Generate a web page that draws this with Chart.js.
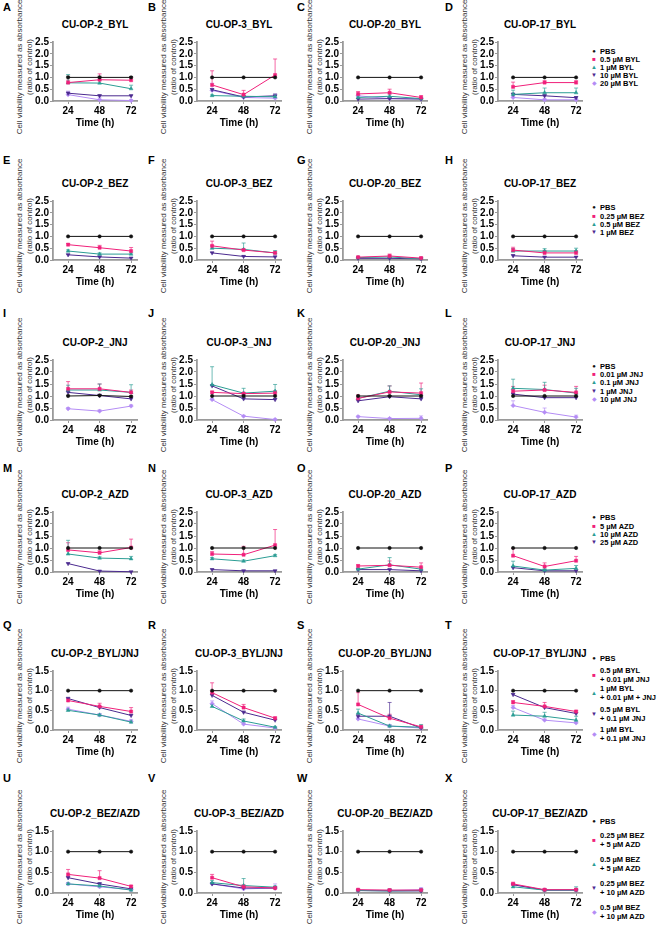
<!DOCTYPE html>
<html>
<head>
<meta charset="utf-8">
<script src="https://cdn.jsdelivr.net/npm/chart.js@4.4.1/dist/chart.umd.min.js"></script>
<style>
body { margin: 0; background: #fff; font-family: "Liberation Sans", Arial, sans-serif; }
#root { position: relative; width: 662px; height: 928px; overflow: hidden; }
canvas { position: absolute; }
.lbl { position: absolute; font-weight: bold; font-size: 11px; line-height: 12px; transform: translateY(-50%); }
.ttl { position: absolute; font-weight: bold; font-size: 10px; white-space: nowrap; transform: translate(-50%, -50%); }
.yt { position: absolute; font-size: 8px; line-height: 10px; white-space: nowrap; text-align: center; color: #333;
      transform: translate(-50%, -50%) rotate(-90deg); }
.lg { position: absolute; font-weight: bold; font-size: 7.5px; line-height: 9px; white-space: nowrap; }
.mk { position: absolute; font-size: 6px; line-height: 6px; transform: translate(-50%, -50%); }
</style>
</head>
<body>
<div id="root"></div>
<script>
const TIMES = [24, 48, 72];

// legend labels per drug set
const BYL_LABELS = ["PBS", "0.5 µM BYL", "1 µM BYL", "10 µM BYL", "20 µM BYL"];
const BEZ_LABELS = ["PBS", "0.25 µM BEZ", "0.5 µM BEZ", "1 µM BEZ"];
const JNJ_LABELS = ["PBS", "0.01 µM JNJ", "0.1 µM JNJ", "1 µM JNJ", "10 µM JNJ"];
const AZD_LABELS = ["PBS", "5 µM AZD", "10 µM AZD", "25 µM AZD"];
const BYLJNJ_LABELS = ["PBS", ["0.5 µM BYL", "+ 0.01 µM JNJ"], ["1 µM BYL", "+ 0.01 µM + JNJ"],
	["0.5 µM BYL", "+ 0.1 µM JNJ"], ["1 µM BYL", "+ 0.1 µM JNJ"]];
const BEZAZD_LABELS = ["PBS", ["0.25 µM BEZ", "+ 5 µM AZD"], ["0.5 µM BEZ", "+ 5 µM AZD"],
	["0.25 µM BEZ", "+ 10 µM AZD"], ["0.5 µM BEZ", "+ 10 µM AZD"]];

// means (rows = series, cols = 24/48/72 h) and SD (upper error bars)
const A_mean = [[1, 1, 1], [0.78, 0.9, 0.88], [0.77, 0.76, 0.52], [0.33, 0.22, 0.22], [0.27, 0.05, 0.02]];
const A_sd = [[0.05, 0.05, 0.04], [0.1, 0.25, 0.1], [0.35, 0.12, 0.15], [0.05, 0.05, 0.04], [0.15, 0.08, 0.04]];
const B_mean = [[1, 1, 1], [0.68, 0.27, 1.1], [0.23, 0.2, 0.18], [0.48, 0.17, 0.22], [0.45, 0.15, 0.12]];
const B_sd = [[0, 0, 0], [0.6, 0.18, 0.68], [0.03, 0.03, 0.05], [0.05, 0.05, 0.08], [0.3, 0.1, 0.15]];
const C_mean = [[1, 1, 1], [0.3, 0.35, 0.15], [0.15, 0.2, 0.1], [0.08, 0.1, 0.08], [0.22, 0.1, 0.1]];
const C_sd = [[0, 0, 0], [0.1, 0.15, 0.08], [0.05, 0.1, 0.05], [0.03, 0.03, 0.03], [0.05, 0.05, 0.05]];
const D_mean = [[1, 1, 1], [0.6, 0.78, 0.78], [0.28, 0.35, 0.35], [0.28, 0.22, 0.14], [0.15, 0.05, 0.05]];
const D_sd = [[0, 0, 0], [0.2, 0.08, 0.08], [0.18, 0.2, 0.2], [0.05, 0.05, 0.05], [0.05, 0.05, 0.05]];

const E_mean = [[1, 1, 1], [0.65, 0.52, 0.38], [0.38, 0.25, 0.25], [0.22, 0.13, 0.08]];
const E_sd = [[0, 0, 0], [0.05, 0.1, 0.15], [0.05, 0.05, 0.05], [0.03, 0.03, 0.03]];
const F_mean = [[1, 1, 1], [0.6, 0.42, 0.3], [0.5, 0.45, 0.3], [0.3, 0.15, 0.13]];
const F_sd = [[0, 0, 0], [0.2, 0.05, 0.05], [0.1, 0.27, 0.1], [0.03, 0.03, 0.03]];
const G_mean = [[1, 1, 1], [0.12, 0.17, 0.08], [0.1, 0.13, 0.05], [0.07, 0.07, 0.05]];
const G_sd = [[0, 0, 0], [0.03, 0.08, 0.05], [0.03, 0.05, 0.03], [0.02, 0.02, 0.02]];
const H_mean = [[1, 1, 1], [0.42, 0.3, 0.3], [0.38, 0.38, 0.38], [0.18, 0.12, 0.12]];
const H_sd = [[0, 0, 0], [0.12, 0.1, 0.1], [0.1, 0.1, 0.12], [0.05, 0.03, 0.03]];

const I_mean = [[1, 1.02, 0.98], [1.3, 1.3, 1.15], [1.25, 1.25, 1.15], [1.15, 1.02, 0.88], [0.47, 0.37, 0.58]];
const I_sd = [[0.03, 0.03, 0.03], [0.3, 0.2, 0.1], [0.2, 0.25, 0.32], [0.05, 0.05, 0.05], [0.05, 0.05, 0.05]];
const J_mean = [[1, 1, 1], [1.15, 1.1, 1.12], [1.47, 1.12, 1.2], [1.42, 0.88, 0.85], [0.85, 0.16, 0.02]];
const J_sd = [[0, 0, 0], [0.05, 0.05, 0.1], [0.75, 0.2, 0.28], [0.05, 0.05, 0.05], [0.05, 0.03, 0.02]];
const K_mean = [[1, 1, 1], [0.9, 1.17, 1.12], [0.9, 1.2, 1.05], [0.8, 0.97, 0.88], [0.14, 0.06, 0.07]];
const K_sd = [[0, 0, 0], [0.15, 0.25, 0.42], [0.1, 0.22, 0.25], [0.05, 0.05, 0.05], [0.03, 0.03, 0.1]];
const L_mean = [[1, 1, 1], [1.2, 1.25, 1.15], [1.32, 1.27, 1.12], [1.08, 0.93, 0.93], [0.6, 0.32, 0.12]];
const L_sd = [[0, 0, 0], [0.2, 0.2, 0.25], [0.38, 0.3, 0.2], [0.05, 0.05, 0.05], [0.2, 0.18, 0.08]];

const M_mean = [[1, 1, 1], [0.92, 0.8, 1.02], [0.75, 0.58, 0.55], [0.35, 0.04, 0.01]];
const M_sd = [[0, 0, 0], [0.3, 0.08, 0.35], [0.57, 0.05, 0.1], [0.03, 0.02, 0.01]];
const N_mean = [[1, 1, 1], [0.75, 0.72, 1.12], [0.55, 0.45, 0.68], [0.1, 0.05, 0.05]];
const N_sd = [[0, 0, 0], [0.1, 0.35, 0.65], [0.05, 0.05, 0.05], [0.03, 0.02, 0.02]];
const O_mean = [[1, 1, 1], [0.25, 0.28, 0.2], [0.12, 0.3, 0.12], [0.1, 0.1, 0.05]];
const O_sd = [[0, 0, 0], [0.05, 0.18, 0.18], [0.05, 0.3, 0.05], [0.02, 0.02, 0.02]];
const P_mean = [[1, 1, 1], [0.68, 0.23, 0.47], [0.25, 0.08, 0.15], [0.18, 0.05, 0.05]];
const P_sd = [[0, 0, 0], [0.3, 0.15, 0.18], [0.2, 0.05, 0.12], [0.03, 0.02, 0.02]];

const Q_mean = [[1, 1, 1], [0.75, 0.6, 0.47], [0.5, 0.38, 0.2], [0.8, 0.57, 0.37], [0.53, 0.38, 0.22]];
const Q_sd = [[0, 0, 0], [0.05, 0.08, 0.1], [0.03, 0.03, 0.03], [0.03, 0.03, 0.03], [0.05, 0.03, 0.05]];
const R_mean = [[1, 1, 1], [0.95, 0.57, 0.3], [0.6, 0.23, 0.07], [0.88, 0.45, 0.25], [0.67, 0.15, 0.05]];
const R_sd = [[0, 0, 0], [0.25, 0.08, 0.03], [0.05, 0.05, 0.02], [0.03, 0.03, 0.03], [0.07, 0.03, 0.02]];
const S_mean = [[1, 1, 1], [0.65, 0.3, 0.08], [0.43, 0.1, 0.07], [0.35, 0.35, 0.05], [0.28, 0.1, 0.05]];
const S_sd = [[0, 0, 0], [0.3, 0.1, 0.03], [0.1, 0.03, 0.07], [0.05, 0.35, 0.03], [0.05, 0.03, 0.02]];
const T_mean = [[1, 1, 1], [0.7, 0.6, 0.47], [0.38, 0.35, 0.25], [0.9, 0.57, 0.42], [0.57, 0.25, 0.18]];
const T_sd = [[0, 0, 0], [0.05, 0.1, 0.03], [0.1, 0.1, 0.1], [0.03, 0.03, 0.03], [0.05, 0.03, 0.03]];

const U_mean = [[1, 1, 1], [0.45, 0.36, 0.16], [0.22, 0.17, 0.07], [0.37, 0.22, 0.1], [0.22, 0.15, 0.08]];
const U_sd = [[0, 0, 0], [0.12, 0.18, 0.02], [0.03, 0.03, 0.02], [0.03, 0.03, 0.02], [0.03, 0.03, 0.02]];
const V_mean = [[1, 1, 1], [0.37, 0.15, 0.12], [0.25, 0.18, 0.14], [0.22, 0.12, 0.12], [0.22, 0.1, 0.12]];
const V_sd = [[0, 0, 0], [0.08, 0.05, 0.03], [0.05, 0.17, 0.03], [0.03, 0.03, 0.03], [0.03, 0.03, 0.1]];
const W_mean = [[1, 1, 1], [0.08, 0.07, 0.07], [0.06, 0.05, 0.06], [0.06, 0.05, 0.05], [0.07, 0.06, 0.08]];
const W_sd = [[0, 0, 0], [0.02, 0.02, 0.02], [0.02, 0.05, 0.05], [0.02, 0.02, 0.02], [0.02, 0.03, 0.05]];
const X_mean = [[1, 1, 1], [0.22, 0.08, 0.08], [0.15, 0.07, 0.07], [0.2, 0.07, 0.07], [0.2, 0.07, 0.07]];
const X_sd = [[0, 0, 0], [0.04, 0.02, 0.03], [0.03, 0.02, 0.08], [0.02, 0.02, 0.02], [0.02, 0.02, 0.02]];

const PANELS = [
	["A", "CU-OP-2_BYL", A_mean, A_sd, BYL_LABELS], ["B", "CU-OP-3_BYL", B_mean, B_sd, BYL_LABELS],
	["C", "CU-OP-20_BYL", C_mean, C_sd, BYL_LABELS], ["D", "CU-OP-17_BYL", D_mean, D_sd, BYL_LABELS],
	["E", "CU-OP-2_BEZ", E_mean, E_sd, BEZ_LABELS], ["F", "CU-OP-3_BEZ", F_mean, F_sd, BEZ_LABELS],
	["G", "CU-OP-20_BEZ", G_mean, G_sd, BEZ_LABELS], ["H", "CU-OP-17_BEZ", H_mean, H_sd, BEZ_LABELS],
	["I", "CU-OP-2_JNJ", I_mean, I_sd, JNJ_LABELS], ["J", "CU-OP-3_JNJ", J_mean, J_sd, JNJ_LABELS],
	["K", "CU-OP-20_JNJ", K_mean, K_sd, JNJ_LABELS], ["L", "CU-OP-17_JNJ", L_mean, L_sd, JNJ_LABELS],
	["M", "CU-OP-2_AZD", M_mean, M_sd, AZD_LABELS], ["N", "CU-OP-3_AZD", N_mean, N_sd, AZD_LABELS],
	["O", "CU-OP-20_AZD", O_mean, O_sd, AZD_LABELS], ["P", "CU-OP-17_AZD", P_mean, P_sd, AZD_LABELS],
	["Q", "CU-OP-2_BYL/JNJ", Q_mean, Q_sd, BYLJNJ_LABELS], ["R", "CU-OP-3_BYL/JNJ", R_mean, R_sd, BYLJNJ_LABELS],
	["S", "CU-OP-20_BYL/JNJ", S_mean, S_sd, BYLJNJ_LABELS], ["T", "CU-OP-17_BYL/JNJ", T_mean, T_sd, BYLJNJ_LABELS],
	["U", "CU-OP-2_BEZ/AZD", U_mean, U_sd, BEZAZD_LABELS], ["V", "CU-OP-3_BEZ/AZD", V_mean, V_sd, BEZAZD_LABELS],
	["W", "CU-OP-20_BEZ/AZD", W_mean, W_sd, BEZAZD_LABELS], ["X", "CU-OP-17_BEZ/AZD", X_mean, X_sd, BEZAZD_LABELS],
];
const ROW_YMAX = [2.5, 2.5, 2.5, 2.5, 1.5, 1.5];

// look
const COLORS = ["#111111", "#f0207a", "#2b9d94", "#4b2a8f", "#b48cf5"];
const MARKERS = ["circle", "rect", "triangle", "triangle", "rectRot"];
const MARK_ROT = [0, 0, 0, 180, 0];
const MARK_CHAR = ["●", "■", "▲", "▼", "◆"];

// layout (pixels)
const COL_AXIS = [53, 197, 343, 498];
const COL_LETTER = [3, 148, 297, 445];
const ROW_TOP = [42, 201, 360, 512, 671, 831];
const ROW_BOT = [101, 260, 420, 572, 730, 893];
const ROW_LETTER = [7, 160, 313, 468, 625, 778];
const LEGEND_Y = [[51, 59, 67, 75, 83], [207, 216, 224, 232], [366, 374, 382, 391, 399],
	[517, 526, 534, 542], [658, 674.5, 692.5, 713.5, 733.5], [821, 839.5, 863.5, 887.5, 911.5]];
const PLOT_W = 84;
const Y_AXIS_W = 45;
const X_AXIS_H = 30;
const PAD_TOP = 8;
const PAD_RIGHT = 8;

const FONT = "'Liberation Sans', Arial, sans-serif";
Chart.defaults.font.family = FONT;
Chart.defaults.color = "#000";

const root = document.getElementById("root");
function addDiv(cls, x, y, html, color) {
	const d = document.createElement("div");
	d.className = cls;
	d.style.left = x + "px";
	d.style.top = y + "px";
	if (color) d.style.color = color;
	d.innerHTML = html;
	root.appendChild(d);
	return d;
}

const errorBars = {
	id: "errorBars",
	beforeDatasetsDraw(chart) {
		const { ctx, scales: { x, y } } = chart;
		chart.data.datasets.forEach((ds) => {
			ctx.save();
			ctx.strokeStyle = ds.borderColor;
			ctx.globalAlpha = 0.75;
			ctx.lineWidth = 0.9;
			ds.data.forEach((p, j) => {
				const e = ds.sd[j];
				if (!e) return;
				const px = x.getPixelForValue(p.x);
				const y0 = y.getPixelForValue(p.y);
				const y1 = y.getPixelForValue(p.y + e);
				ctx.beginPath();
				ctx.moveTo(px, y0);
				ctx.lineTo(px, y1);
				ctx.moveTo(px - 2, y1);
				ctx.lineTo(px + 2, y1);
				ctx.stroke();
			});
			ctx.restore();
		});
	},
};

PANELS.forEach(([letter, title, mean, sd, labels], idx) => {
	const row = Math.floor(idx / 4);
	const col = idx % 4;
	const axisX = COL_AXIS[col];
	const top = ROW_TOP[row];
	const bot = ROW_BOT[row];
	const plotH = bot - top;
	const yMax = ROW_YMAX[row];

	addDiv("lbl", COL_LETTER[col], ROW_LETTER[row], letter);
	addDiv("ttl", axisX + PLOT_W / 2, top - 18, title);
	addDiv("yt", axisX - 28, (top + bot) / 2 - 5,
		"Cell viability measured as absorbance<br>(ratio of control)");

	const cv = document.createElement("canvas");
	const w = Y_AXIS_W + PLOT_W + PAD_RIGHT;
	const h = PAD_TOP + plotH + X_AXIS_H;
	cv.width = w;
	cv.height = h;
	cv.style.width = w + "px";
	cv.style.height = h + "px";
	cv.style.left = axisX - Y_AXIS_W + "px";
	cv.style.top = top - PAD_TOP + "px";
	root.appendChild(cv);

	const datasets = mean.map((vals, s) => ({
		label: Array.isArray(labels[s]) ? labels[s].join(" ") : labels[s],
		data: vals.map((v, j) => ({ x: TIMES[j], y: v })),
		sd: sd[s],
		borderColor: COLORS[s],
		backgroundColor: COLORS[s],
		borderWidth: 1,
		pointStyle: MARKERS[s],
		rotation: MARK_ROT[s],
		pointRadius: s === 0 ? 1.7 : 2.2,
		pointBorderWidth: 0.5,
		tension: 0,
		clip: false,
	}));

	const yTicks = [];
	for (let i = 0; i <= Math.round(yMax / 0.5); i++) yTicks.push(i * 0.5);

	new Chart(cv, {
		type: "line",
		data: { datasets },
		options: {
			responsive: false,
			animation: false,
			devicePixelRatio: 1,
			layout: { padding: { top: PAD_TOP, right: PAD_RIGHT, left: 0, bottom: 0 } },
			plugins: { legend: { display: false }, tooltip: { enabled: false } },
			scales: {
				x: {
					type: "linear",
					min: 12.5,
					max: 76.5,
					afterBuildTicks: (s) => { s.ticks = TIMES.map((v) => ({ value: v })); },
					afterFit: (s) => { s.height = X_AXIS_H; },
					ticks: { font: { size: 10, weight: "bold" }, padding: 1, color: "#000", autoSkip: false, maxRotation: 0 },
					grid: { drawOnChartArea: false, drawTicks: true, tickLength: 3, color: "#9a9a9a", lineWidth: 1 },
					border: { display: true, color: "#9a9a9a", width: 1.8 },
					title: { display: true, text: "Time (h)", font: { size: 10, weight: "bold" }, padding: { top: 0, bottom: 1.5 }, color: "#000" },
				},
				y: {
					min: 0,
					max: yMax,
					afterBuildTicks: (s) => { s.ticks = yTicks.map((v) => ({ value: v })); },
					afterFit: (s) => { s.width = Y_AXIS_W; },
					ticks: { autoSkip: false, font: { size: 10, weight: "bold" }, padding: 1, color: "#000",
						callback: (v) => v.toFixed(1) },
					grid: { drawOnChartArea: false, drawTicks: true, tickLength: 3, color: "#9a9a9a", lineWidth: 1 },
					border: { display: true, color: "#9a9a9a", width: 1.8 },
				},
			},
		},
		plugins: [errorBars],
	});

	// legend beside the last column
	if (col === 3) {
		labels.forEach((lab, s) => {
			const yc = LEGEND_Y[row][s];
			addDiv("mk", 594, yc, MARK_CHAR[s], COLORS[s]);
			const lines = Array.isArray(lab) ? lab : [lab];
			addDiv("lg", 600, yc - (lines.length * 9) / 2, lines.join("<br>"));
		});
	}
});
</script>
</body>
</html>
